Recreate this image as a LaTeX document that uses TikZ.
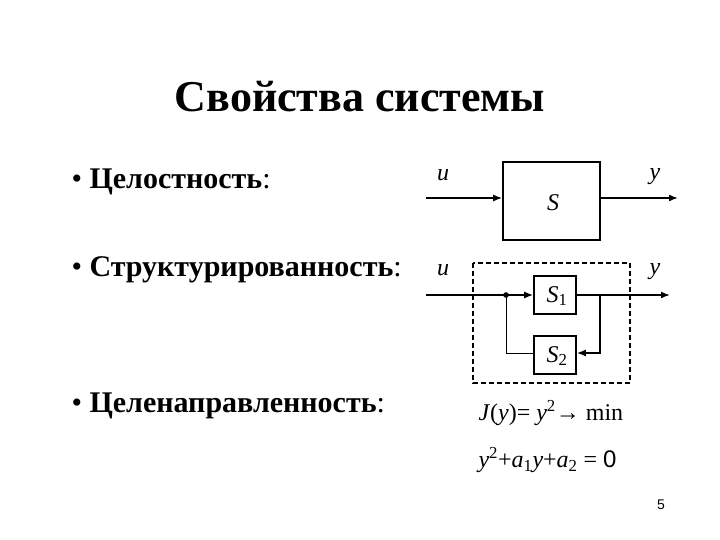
\documentclass[tikz,border=0pt]{standalone}
\usepackage{fontspec}
\setmainfont{Liberation Serif}
\newfontfamily\arial{Liberation Sans}
\usetikzlibrary{arrows.meta}
\begin{document}
\begin{tikzpicture}[x=1pt,y=-1pt,
  blk/.style={draw,line width=1.6pt,inner sep=0pt},
  sig/.style={line width=1.6pt,-{Latex[length=9pt,width=7pt]}},
  bul/.style={anchor=west,font=\fontsize{30}{34}\selectfont},
  lab/.style={font=\fontsize{24}{26}\selectfont\itshape}]
\useasboundingbox (0,0) rectangle (720,540);
\node (title) at (360,97) {\fontsize{44}{50}\selectfont\bfseries Свойства системы};
\node[bul] (b1) at (68,182) {• \textbf{Целостность}:};
\node[bul] (b2) at (68,270) {• \textbf{Структурированность}:};
\node[bul] (b3) at (68,406) {• \textbf{Целенаправленность}:};
% top system
\node[blk,minimum width=97pt,minimum height=78pt] (S) at (551.5,201) {};
\node[lab] at (553,203) {S};
\coordinate (in1) at (426,198);
\coordinate (out1) at (678,198);
\draw[sig] (in1) -- (in1 -| S.west);
\draw[sig] (S.east |- out1) -- (out1);
\node[lab] at (443,175) {u};
\node[lab] at (655,177) {y};
% structured
\draw[dashed,line width=1.6pt,dash pattern=on 5pt off 3pt] (473,263) rectangle (630,383);
\node[blk,minimum width=42pt,minimum height=38pt] (S1) at (555,295) {};
\node[lab] at (557,296) {S\textsubscript{\upshape 1}};
\node[blk,minimum width=42pt,minimum height=38pt] (S2) at (555,355) {};
\node[lab] at (557,356) {S\textsubscript{\upshape 2}};
\coordinate (in2) at (426,295);
\coordinate (dot) at (506,295);
\coordinate (jr) at (600,295);
\coordinate (out2) at (670,295);
\draw[sig] (in2) -- (S1.west);
\fill (dot) circle (2.8pt);
\draw[line width=1.6pt] (S1.east) -- (jr);
\draw[sig] (jr) -- (out2);
\draw[sig] (jr) |- (S2.east |- 0,353);
\draw[line width=0.8pt] (S2.west |- 0,353) -| (dot);
\node[lab] at (443,270) {u};
\node[lab] at (655,272) {y};
% formulas
\node[anchor=west,font=\fontsize{24}{26}\selectfont] (f1) at (475,413) {\textit{J}(\textit{y})= \textit{y}\textsuperscript{2}\arial\textrightarrow\rmfamily\ min};
\node[anchor=west,font=\fontsize{24}{26}\selectfont] (f2) at (475,460) {\textit{y}\textsuperscript{2}+\textit{a}\textsubscript{1}\textit{y}+\textit{a}\textsubscript{2} = {\arial 0}};
\node[font=\arial\fontsize{14}{16}\selectfont] (pg) at (661,505) {5};
\end{tikzpicture}
\end{document}
